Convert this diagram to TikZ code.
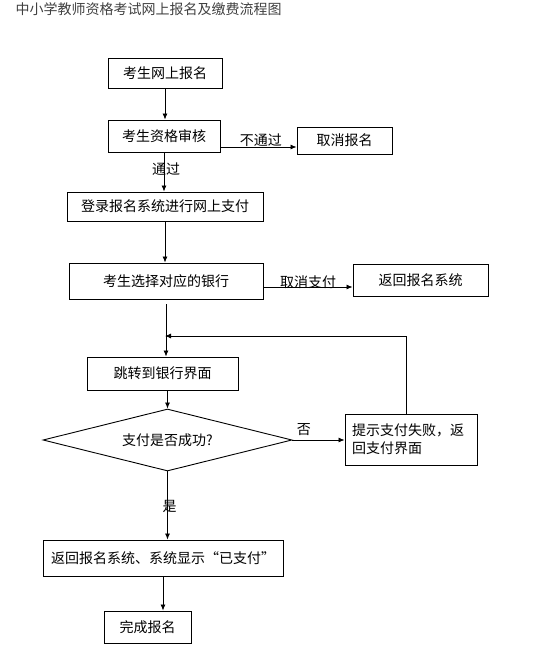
\documentclass[tikz,border=0pt]{standalone}
\usepackage{fontspec}
\setmainfont{Noto Sans CJK SC}
\usepackage{xcolor}
\usepackage{tikz}
\usetikzlibrary{arrows.meta,shapes.geometric,calc}

\begin{document}
\begin{tikzpicture}[x=1pt,y=-1pt,>={Latex[length=6pt,width=5pt]},
  font=\fontsize{14}{18}\selectfont,
  flowbox/.style={draw,line width=0.9pt,inner sep=0pt},
  flowline/.style={line width=0.8pt},
  flowlabel/.style={inner sep=0pt}]
  \useasboundingbox (0,0) rectangle (554,648);
  \node[anchor=west,text=black!75] (title) at (12,9) {中小学教师资格考试网上报名及缴费流程图};
  % boxes of the main column
  \node[flowbox,minimum width=114pt,minimum height=30pt] (sign) at (165,73) {考生网上报名};
  \node[flowbox,minimum width=112pt,minimum height=32pt] (check) at (164,136) {考生资格审核};
  \node[flowbox,minimum width=196pt,minimum height=29pt] (login) at (165,206.5) {登录报名系统进行网上支付};
  \node[flowbox,minimum width=194pt,minimum height=36pt] (bank) at (166,281) {考生选择对应的银行};
  \node[flowbox,minimum width=151pt,minimum height=33pt] (jump) at (162.5,373.5) {跳转到银行界面};
  \node[flowbox,diamond,aspect=4,minimum width=249pt,minimum height=62pt] (decide) at (167.5,440) {支付是否成功?};
  \node[flowbox,minimum width=240pt,minimum height=36pt] (paid) at (163,558) {返回报名系统、系统显示“已支付”};
  \node[flowbox,minimum width=87pt,minimum height=32pt] (done) at (147.5,627) {完成报名};
  % side boxes
  \node[flowbox,minimum width=95pt,minimum height=27pt] (cancel) at (344.5,140.5) {取消报名};
  \node[flowbox,minimum width=135pt,minimum height=32pt] (back) at (420.5,280) {返回报名系统};
  \node[flowbox,minimum width=132pt,minimum height=51pt,text width=118pt,align=left] (fail) at (411,439.5) {提示支付失败，返\\回支付界面};
  \coordinate (merge) at (165,336);
  % connectors
  \draw[flowline,->] (sign.south) -- (sign.south |- check.north);
  \draw[flowline,->] (check.south) -- node[flowlabel,pos=0.42,xshift=2pt] {通过} (check.south |- login.north);
  \draw[flowline,->] ([yshift=-11pt]check.east) -- node[flowlabel,above,pos=0.53] {不通过} ([yshift=-11pt]check.east -| cancel.west);
  \draw[flowline,->] (login.south) -- (login.south |- bank.north);
  \draw[flowline,->] ([yshift=-6pt]bank.east) -- node[flowlabel,above,pos=0.5,yshift=-2pt] {取消支付} ([yshift=-6pt]bank.east -| back.west);
  \draw[flowline,->] ([yshift=-5pt]bank.south) -- (bank.south |- jump.north);
  \draw[flowline,->] ([xshift=-5pt]fail.north) |- (merge);
  \draw[flowline,->] (jump.south -| decide.north) -- (decide.north);
  \draw[flowline,->] (decide.east) -- node[flowlabel,above,pos=0.22,yshift=4pt] {否} (decide.east -| fail.west);
  \draw[flowline,->] (decide.south) -- node[flowlabel,pos=0.52,xshift=2pt] {是} (decide.south |- paid.north);
  \draw[flowline,->] (paid.south) -- (paid.south |- done.north);
\end{tikzpicture}
\end{document}
